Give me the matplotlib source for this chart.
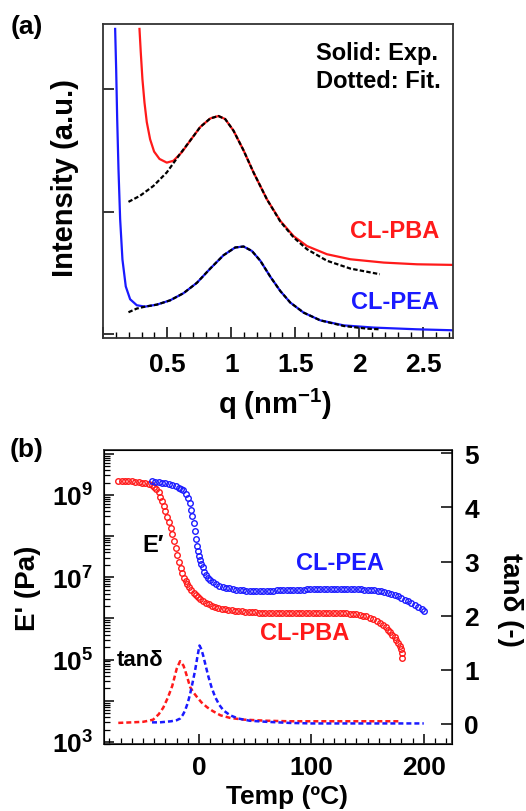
import matplotlib
matplotlib.use("Agg")
import matplotlib.pyplot as plt
import numpy as np
from matplotlib.ticker import LogLocator, MultipleLocator, FixedLocator, FuncFormatter, NullFormatter

plt.rcParams["font.family"] = ["Liberation Sans", "DejaVu Sans"]
plt.rcParams["font.weight"] = "bold"
plt.rcParams["mathtext.fontset"] = "custom"
plt.rcParams["mathtext.rm"] = "Liberation Sans:bold"
plt.rcParams["mathtext.it"] = "Liberation Sans:bold"
plt.rcParams["mathtext.bf"] = "Liberation Sans:bold"

RED, BLUE = "#ff1a1a", "#1a1aff"

# ---- (a) SAXS profiles (arbitrary intensity units) ----
q_pba = [0.284, 0.294, 0.307, 0.323, 0.341, 0.367, 0.398, 0.44, 0.497, 0.549, 0.615,
         0.68, 0.758, 0.836, 0.90, 0.953, 1.018, 1.096, 1.174, 1.279, 1.383, 1.487,
         1.591, 1.747, 1.93, 2.19, 2.45, 2.73]
i_pba = [2.49, 2.30, 2.08, 1.89, 1.73, 1.59, 1.49, 1.43, 1.40, 1.415, 1.485,
         1.58, 1.69, 1.76, 1.78, 1.755, 1.66, 1.50, 1.32, 1.10, 0.925, 0.80,
         0.72, 0.653, 0.612, 0.585, 0.571, 0.566]
q_pba_fit = [0.198, 0.289, 0.393, 0.497, 0.60, 0.68, 0.758, 0.836, 0.90, 0.953, 1.018,
             1.096, 1.174, 1.279, 1.383, 1.487, 1.591, 1.747, 1.93, 2.06, 2.16]
i_pba_fit = [1.08, 1.13, 1.21, 1.32, 1.47, 1.58, 1.69, 1.76, 1.78, 1.755, 1.66,
             1.50, 1.32, 1.10, 0.92, 0.79, 0.694, 0.60, 0.536, 0.51, 0.49]
q_pea = [0.094, 0.102, 0.11, 0.12, 0.133, 0.151, 0.177, 0.211, 0.263, 0.328, 0.419,
         0.523, 0.627, 0.732, 0.836, 0.94, 1.031, 1.096, 1.161, 1.227, 1.305, 1.383,
         1.461, 1.565, 1.695, 1.878, 2.112, 2.45, 2.73]
i_pea = [2.49, 2.16, 1.755, 1.35, 0.94, 0.61, 0.39, 0.286, 0.237, 0.226, 0.242,
         0.277, 0.335, 0.42, 0.536, 0.645, 0.708, 0.716, 0.68, 0.60, 0.47, 0.353,
         0.259, 0.177, 0.114, 0.073, 0.055, 0.041, 0.033]
q_pea_fit = [0.198, 0.263, 0.328, 0.419, 0.523, 0.627, 0.732, 0.836, 0.94, 1.031, 1.096,
             1.161, 1.227, 1.305, 1.383, 1.461, 1.565, 1.695, 1.878, 2.06, 2.16]
i_pea_fit = [0.18, 0.21, 0.226, 0.242, 0.277, 0.335, 0.42, 0.536, 0.645, 0.708, 0.716,
             0.68, 0.60, 0.47, 0.353, 0.259, 0.177, 0.114, 0.068, 0.046, 0.041]

# ---- (b) DMA: storage modulus (log10 Pa) ----
t_pba = [-72, -69, -66, -63, -60, -57, -54, -51, -48, -45, -42, -40, -38, -36, -34.5,
         -33, -31.5, -30, -28.5, -27, -25.5, -24, -22.5, -21, -19.5, -18, -16.5, -15,
         -13.5, -12, -10.5, -9, -7, -5, -3, -1, 1, 3.5, 6, 8.5, 11, 14, 17, 20, 23, 26,
         29, 32, 35, 38, 41, 44, 47, 50, 53, 56, 59, 62, 65, 68, 71, 74, 77, 80, 83, 86,
         89, 92, 95, 98, 101, 104, 107, 110, 113, 116, 119, 122, 125, 128, 131, 134, 137,
         140, 143, 146, 149, 152, 155, 158, 161, 164, 166, 168, 170, 172, 174, 175.5, 177,
         178.5, 179.5, 180.5, 181]
loge_pba = [9.35, 9.35, 9.34, 9.34, 9.33, 9.32, 9.31, 9.30, 9.29, 9.27, 9.24, 9.20,
            9.14, 9.06, 8.96, 8.85, 8.72, 8.60, 8.47, 8.34, 8.19, 8.04, 7.88, 7.70, 7.53,
            7.37, 7.22, 7.10, 6.99, 6.91, 6.83, 6.76, 6.69, 6.62, 6.56, 6.51, 6.47, 6.42,
            6.38, 6.35, 6.31, 6.28, 6.26, 6.24, 6.23, 6.21, 6.20, 6.19, 6.18, 6.17, 6.16,
            6.16, 6.15, 6.15, 6.14, 6.14, 6.13, 6.13, 6.13, 6.13, 6.13, 6.13, 6.13, 6.13,
            6.13, 6.13, 6.13, 6.13, 6.14, 6.14, 6.14, 6.14, 6.14, 6.14, 6.14, 6.14, 6.14,
            6.14, 6.14, 6.13, 6.13, 6.12, 6.11, 6.10, 6.09, 6.07, 6.05, 6.02, 5.99, 5.95,
            5.90, 5.84, 5.79, 5.73, 5.67, 5.61, 5.54, 5.48, 5.41, 5.33, 5.25, 5.15, 5.05]
t_pea = [-42, -39, -36, -33, -30, -27, -24, -21, -18, -16, -14, -12, -10, -8.5, -7, -6,
         -5, -4, -3, -2, -1, 0, 1, 2, 3, 4.5, 6, 8, 10, 12.5, 15, 18, 21, 24, 27, 30, 33,
         36, 39, 42, 45, 48, 51, 54, 57, 60, 63, 66, 69, 72, 75, 78, 81, 84, 87, 90, 93,
         96, 99, 102, 105, 108, 111, 114, 117, 120, 123, 126, 129, 132, 135, 138, 141,
         144, 147, 150, 153, 156, 159, 162, 165, 168, 171, 174, 177, 180, 183, 186, 189,
         192, 195, 198, 200]
loge_pea = [9.33, 9.32, 9.31, 9.30, 9.29, 9.27, 9.25, 9.22, 9.18, 9.15, 9.11, 9.03,
            8.93, 8.80, 8.63, 8.48, 8.32, 8.13, 7.93, 7.77, 7.63, 7.52, 7.42, 7.33, 7.24,
            7.14, 7.06, 6.99, 6.94, 6.89, 6.84, 6.80, 6.77, 6.75, 6.73, 6.71, 6.70, 6.69,
            6.68, 6.67, 6.67, 6.66, 6.66, 6.66, 6.66, 6.67, 6.67, 6.67, 6.68, 6.68, 6.68,
            6.69, 6.69, 6.69, 6.70, 6.70, 6.70, 6.71, 6.71, 6.71, 6.72, 6.72, 6.72, 6.72,
            6.72, 6.72, 6.72, 6.72, 6.72, 6.72, 6.72, 6.72, 6.71, 6.71, 6.70, 6.70, 6.69,
            6.68, 6.67, 6.66, 6.64, 6.62, 6.60, 6.57, 6.54, 6.50, 6.46, 6.42, 6.38, 6.33,
            6.28, 6.22, 6.17]

# ---- (b) DMA: tan delta ----
t_tan_pba = [-72, -60, -50, -45, -41, -36, -32, -28, -24, -20, -17, -14, -12.5, -10, -8,
             -5, -2, 2, 7, 12, 19, 28, 40, 50, 60, 80, 100, 120, 140, 160, 180]
tan_pba = [0.02, 0.03, 0.04, 0.06, 0.08, 0.18, 0.3, 0.48, 0.7, 1.02, 1.16, 1.08, 0.99,
           0.82, 0.68, 0.58, 0.5, 0.4, 0.31, 0.24, 0.16, 0.11, 0.08, 0.07, 0.06, 0.05,
           0.05, 0.05, 0.05, 0.05, 0.05]
t_tan_pea = [-42, -35, -30, -25, -20, -17, -14.5, -12.5, -10, -8, -6, -3.6, -1.5, 0.3, 2,
             3.9, 6, 8.3, 11, 14.2, 18, 21.7, 27.6, 35, 45, 60, 80, 100, 130, 160, 200]
tan_pea = [0.03, 0.03, 0.04, 0.05, 0.07, 0.1, 0.17, 0.25, 0.4, 0.56, 0.75, 0.99, 1.25,
           1.45, 1.38, 1.24, 1.06, 0.87, 0.68, 0.5, 0.35, 0.25, 0.16, 0.1, 0.06, 0.04,
           0.02, 0.01, 0.01, 0.01, 0.01]

fig = plt.figure(figsize=(5.26, 8.12), dpi=100)

# ---------------- panel (a) ----------------
ax = fig.add_axes([0.196, 0.5825, 0.665, 0.3867])
ax.plot(q_pba, i_pba, color=RED, lw=1.6)
ax.plot(q_pea, i_pea, color=BLUE, lw=1.6)
ax.plot(q_pba_fit, i_pba_fit, color="black", lw=1.6, ls=(0, (2, 1)))
ax.plot(q_pea_fit, i_pea_fit, color="black", lw=1.6, ls=(0, (2, 1)))
ax.set_xlim(0, 2.73)
ax.set_ylim(-0.03, 2.53)
ax.xaxis.set_major_locator(MultipleLocator(0.5))
ax.xaxis.set_minor_locator(MultipleLocator(0.1))
ax.xaxis.set_major_formatter(FuncFormatter(lambda v, p: "" if v <= 0 else f"{v:g}"))
ax.yaxis.set_major_locator(FixedLocator([0, 1, 2]))
ax.yaxis.set_major_formatter(NullFormatter())
ax.tick_params(direction="in", labelsize=19, width=1.1, length=8, pad=10)
ax.tick_params(which="minor", direction="in", width=1.0, length=4)
for s in ax.spines.values():
    s.set_linewidth(1.3)
    s.set_color("#333333")
ax.text(0.609, 0.865, "Solid: Exp.\nDotted: Fit.", transform=ax.transAxes,
        fontsize=17, ha="left", va="center", linespacing=1.25)
ax.text(0.706, 0.341, "CL-PBA", transform=ax.transAxes, color=RED, fontsize=17,
        ha="left", va="center")
ax.text(0.708, 0.115, "CL-PEA", transform=ax.transAxes, color=BLUE, fontsize=17,
        ha="left", va="center")
fig.text(0.124, 0.781, "Intensity (a.u.)", rotation=90, fontsize=21, ha="center", va="center")
fig.text(0.523, 0.5025, "q (nm$^{-1}$)", fontsize=21, ha="center", va="center")
fig.text(0.051, 0.967, "(a)", fontsize=19, ha="center", va="center")

# ---------------- panel (b) ----------------
bx = fig.add_axes([0.198, 0.0825, 0.661, 0.362])
bx.plot(t_pba, np.power(10.0, loge_pba), color=RED, ls="none", marker="o", ms=4,
        mfc="none", mew=1.0)
bx.plot(t_pea, np.power(10.0, loge_pea), color=BLUE, ls="none", marker="o", ms=4,
        mfc="none", mew=1.0)
bx.set_yscale("log")
bx.set_xlim(-84.6, 225)
bx.set_ylim(10 ** 2.95, 10 ** 10.09)
bx.yaxis.set_major_locator(FixedLocator(10.0 ** np.arange(3, 11)))
bx.yaxis.set_minor_locator(LogLocator(base=10, subs=np.arange(2, 10), numticks=20))
bx.yaxis.set_minor_formatter(NullFormatter())


def odd_exp(v, p):
    e = int(round(np.log10(v)))
    return f"10$^{{{e}}}$" if e % 2 == 1 else ""


bx.yaxis.set_major_formatter(FuncFormatter(odd_exp))
bx.xaxis.set_major_locator(FixedLocator([0, 100, 200]))
bx.xaxis.set_minor_locator(MultipleLocator(10))
bx.tick_params(direction="in", labelsize=19, width=1.1, length=7, pad=8)
bx.tick_params(which="minor", direction="in", width=0.9, length=4)
for s in bx.spines.values():
    s.set_linewidth(1.3)
    s.set_color("#333333")

tx = bx.twinx()
tx.plot(t_tan_pba, tan_pba, color=RED, lw=1.8, ls=(0, (2, 1.2)))
tx.plot(t_tan_pea, tan_pea, color=BLUE, lw=1.8, ls=(0, (2, 1.2)))
tx.set_ylim(-0.37, 5.06)
tx.yaxis.set_major_locator(FixedLocator([0, 1, 2, 3, 4, 5]))
tx.tick_params(direction="in", labelsize=19, width=1.1, length=8, pad=9)

bx.text(0.678, 0.619, "CL-PEA", transform=bx.transAxes, color=BLUE, fontsize=17,
        ha="center", va="center")
bx.text(0.578, 0.381, "CL-PBA", transform=bx.transAxes, color=RED, fontsize=17,
        ha="center", va="center")
bx.text(0.141, 0.680, "E\u2032", transform=bx.transAxes, fontsize=17, ha="center", va="center")
bx.text(0.103, 0.289, "tan\u03b4", transform=bx.transAxes, fontsize=16, ha="center", va="center")

fig.text(0.053, 0.276, "E' (Pa)", rotation=90, fontsize=20, ha="center", va="center")
fig.text(0.970, 0.261, "tan\u03b4 (-)", rotation=270, fontsize=20, ha="center", va="center")
fig.text(0.546, 0.019, "Temp (\u00baC)", fontsize=19, ha="center", va="center")
fig.text(0.051, 0.446, "(b)", fontsize=19, ha="center", va="center")

fig.savefig("out.png", dpi=100)
